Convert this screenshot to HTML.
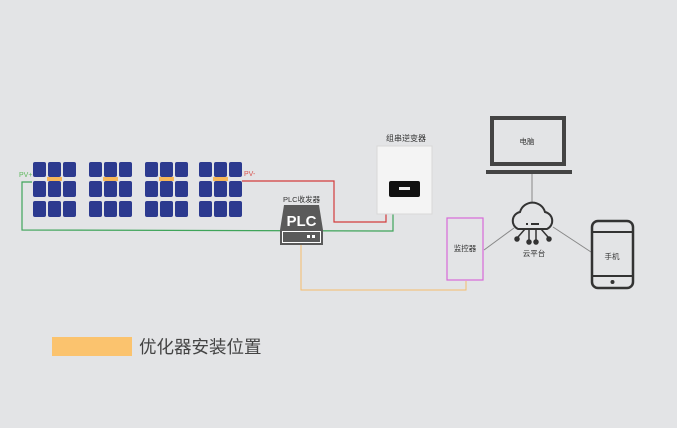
<!DOCTYPE html>
<html><head><meta charset="utf-8"><style>
html,body{margin:0;padding:0;background:#e3e4e6;}
svg{display:block}
text{font-family:"Liberation Sans","Noto Sans CJK SC",sans-serif;}
</style></head><body>
<svg width="677" height="428" viewBox="0 0 677 428" xmlns="http://www.w3.org/2000/svg">
<rect width="677" height="428" fill="#e3e4e6"/>
<g fill="#2c3a8f">
<g id="g1">
<rect x="33" y="162" width="13" height="15" rx="2"/><rect x="48" y="162" width="13" height="15" rx="2"/><rect x="63" y="162" width="13" height="15" rx="2"/>
<rect x="33" y="181" width="13" height="16" rx="2"/><rect x="48" y="181" width="13" height="16" rx="2"/><rect x="63" y="181" width="13" height="16" rx="2"/>
<rect x="33" y="201" width="13" height="16" rx="2"/><rect x="48" y="201" width="13" height="16" rx="2"/><rect x="63" y="201" width="13" height="16" rx="2"/>
</g>
<use href="#g1" x="56"/>
<use href="#g1" x="112"/>
<use href="#g1" x="166"/>
</g>
<g fill="#f6b75a">
<rect x="47" y="177" width="15" height="4"/><rect x="103" y="177" width="15" height="4"/><rect x="159" y="177" width="15" height="4"/><rect x="213" y="177" width="15" height="4"/>
</g>
<text x="19" y="177" font-size="7" fill="#5cb85c">PV+</text>
<text x="244" y="176" font-size="7" fill="#d9534f">PV-</text>
<polyline points="242,181 334,181 334,222 386,222 386,213" fill="none" stroke="#d33c3c" stroke-width="1.2"/>
<polyline points="32,182 22,182 22,230 393,231 393,213" fill="none" stroke="#3fa45a" stroke-width="1.2"/>
<polyline points="301,245 301,290 466,290 466,281" fill="none" stroke="#f4bd6c" stroke-width="1"/>
<text x="283" y="202" font-size="7.5" fill="#333">PLC收发器</text>
<path d="M284,205 L319,205 L323,230 L323,245 L280,245 L280,230 Z" fill="#5a5a5a"/>
<rect x="282.5" y="231.5" width="38" height="11" fill="none" stroke="#fff" stroke-width="1"/>
<rect x="307" y="235" width="3" height="3" fill="#fff"/><rect x="312" y="235" width="3" height="3" fill="#fff"/>
<text x="301.5" y="226" font-size="15" font-weight="bold" fill="#fff" text-anchor="middle">PLC</text>
<text x="386" y="141" font-size="8" fill="#333">组串逆变器</text>
<rect x="377" y="146" width="55" height="68" fill="#f4f4f4" stroke="#d8d8d8"/>
<rect x="389" y="181" width="31" height="16" rx="2" fill="#111"/>
<rect x="399" y="187" width="11" height="3" fill="#eee"/>
<rect x="447" y="218" width="36" height="62" fill="none" stroke="#d86ad8" stroke-width="1.2"/>
<text x="465" y="251" font-size="7.5" fill="#333" text-anchor="middle">监控器</text>
<rect x="492" y="118" width="72" height="46" fill="none" stroke="#444" stroke-width="4"/>
<rect x="486" y="170" width="86" height="4" fill="#444"/>
<text x="527" y="144" font-size="7.5" fill="#333" text-anchor="middle">电脑</text>
<line x1="532" y1="174" x2="532" y2="206" stroke="#888" stroke-width="1"/>
<line x1="514" y1="228" x2="484" y2="250" stroke="#888" stroke-width="1"/>
<line x1="553" y1="227" x2="591" y2="252" stroke="#888" stroke-width="1"/>
<path d="M518,229 a9,9 0 0,1 2,-17 a13,13 0 0,1 25,0 a9,9 0 0,1 2,17 Z" fill="#e3e4e6" stroke="#333" stroke-width="2"/>
<rect x="531" y="223" width="8" height="2" fill="#333"/><rect x="526" y="223" width="2" height="2" fill="#333"/>
<g stroke="#333" stroke-width="1.5" fill="#333">
<line x1="525" y1="229" x2="518" y2="237"/><circle cx="517" cy="239" r="2"/>
<line x1="529" y1="229" x2="529" y2="240"/><circle cx="529" cy="242" r="2"/>
<line x1="536" y1="229" x2="536" y2="240"/><circle cx="536" cy="242" r="2"/>
<line x1="541" y1="229" x2="548" y2="237"/><circle cx="549" cy="239" r="2"/>
</g>
<text x="534" y="256" font-size="7.5" fill="#333" text-anchor="middle">云平台</text>
<rect x="592" y="221" width="41" height="67" rx="6" fill="none" stroke="#333" stroke-width="2.5"/>
<line x1="592" y1="232" x2="633" y2="232" stroke="#333" stroke-width="2"/>
<line x1="592" y1="276" x2="633" y2="276" stroke="#333" stroke-width="2"/>
<circle cx="612.5" cy="282" r="2" fill="#333"/>
<text x="612" y="259" font-size="7.5" fill="#333" text-anchor="middle">手机</text>
<rect x="52" y="337" width="80" height="19" fill="#fbc36e"/>
<text x="139" y="353" font-size="17.5" fill="#444">优化器安装位置</text>
</svg>
</body></html>
